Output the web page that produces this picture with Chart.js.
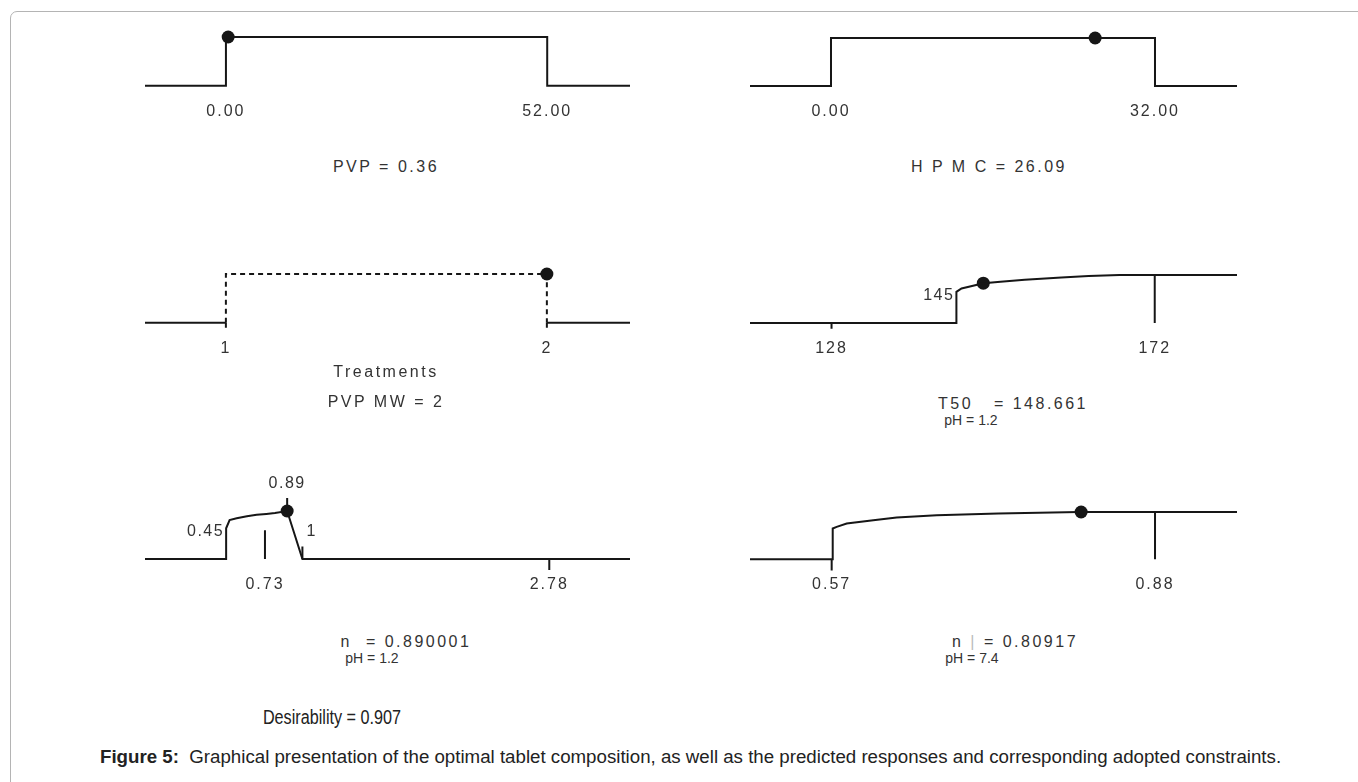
<!DOCTYPE html>
<html>
<head>
<meta charset="utf-8">
<script src="https://cdn.jsdelivr.net/npm/chart.js@4.4.0/dist/chart.umd.min.js"></script>
<style>
  body { margin: 0; background: #fff; width: 1358px; height: 782px; overflow: hidden; position: relative;
         font-family: "Liberation Sans", Arial, sans-serif; color: #222; }
  #frame { position: absolute; left: 10px; top: 11px; width: 1400px; height: 800px;
           border: 1px solid #b4b4b4; border-radius: 7px; }
  canvas { position: absolute; }
  .t { position: absolute; transform: translate(-50%, -50%); white-space: pre; font-size: 16px; letter-spacing: 2.5px; color: #333; }
  .ph { font-size: 14px; letter-spacing: 0; }
  .faint { color: #bbb; }
  #desir { font-size: 20px; letter-spacing: 0; color: #222; transform: translate(-50%, -50%) scaleX(0.81); }
  #caption { position: absolute; left: 100px; top: 746px; font-size: 18.7px; color: #222; white-space: pre; }
</style>
</head>
<body>
<div id="frame"></div>
<canvas id="c1"></canvas>
<canvas id="c2"></canvas>
<canvas id="c3"></canvas>
<canvas id="c4"></canvas>
<canvas id="c5"></canvas>
<canvas id="c6"></canvas>

<div class="t" style="left:386px;top:167px">PVP = 0.36</div>
<div class="t" style="left:989px;top:167px">H P M C = 26.09</div>
<div class="t" style="left:386px;top:372px">Treatments</div>
<div class="t" style="left:386px;top:402px">PVP MW = 2</div>
<div class="t" style="left:1013px;top:404px">T50   = 148.661</div>
<div class="t ph" style="left:971px;top:420px">pH = 1.2</div>
<div class="t" style="left:406px;top:642px">n  = 0.890001</div>
<div class="t ph" style="left:372px;top:658px">pH = 1.2</div>
<div class="t" style="left:1015px;top:642px">n <span class="faint">|</span> = 0.80917</div>
<div class="t ph" style="left:972px;top:658px">pH = 7.4</div>
<div class="t" id="desir" style="left:332px;top:717px">Desirability = 0.907</div>
<div id="caption"><b>Figure 5:</b>  Graphical presentation of the optimal tablet composition, as well as the predicted responses and corresponding adopted constraints.</div>

<script>
// PVP (factor)
var pvpX = [-13.1, 0, 0, 52, 52, 65.4];
var pvpD = [0, 0, 1, 1, 0, 0];
var pvpTicks = [0, 52];
var pvpTickLabels = ['0.00', '52.00'];
var pvpOpt = [0.36, 1];

// HPMC (factor)
var hpmcX = [-8, 0, 0, 32, 32, 40.1];
var hpmcD = [0, 0, 1, 1, 0, 0];
var hpmcTicks = [0, 32];
var hpmcTickLabels = ['0.00', '32.00'];
var hpmcOpt = [26.09, 1];

// PVP MW (categorical factor, treatments 1 and 2)
var mwX = [0.748, 1, 2, 2.259];
var mwStepX = [1, 1, 2, 2];
var mwStepD = [0, 1, 1, 0];
var mwTicks = [1, 2];
var mwTickLabels = ['1', '2'];
var mwMarks = [[1, 0, -0.1], [2, 0, -0.1]];
var mwOpt = [2, 1];

// T50 response, pH 1.2
var t50X = [116.9, 145, 145, 145.4, 145.7, 148.7, 151, 154.3, 159.3, 163, 167.2, 172, 183.2];
var t50D = [0, 0, 0.65, 0.69, 0.72, 0.83, 0.86, 0.9, 0.95, 0.98, 1, 1, 1];
var t50Ticks = [128, 172];
var t50TickLabels = ['128', '172'];
var t50Marks = [[128, 0, -0.12], [172, 0, 1]];
var t50Notes = [[145, 0.58, '145', 'right']];
var t50Opt = [148.661, 0.83];

// n response, pH 1.2
var n12X = [-0.135, 0.45, 0.45, 0.475, 0.526, 0.6, 0.67, 0.74, 0.802, 0.89, 1, 3.362];
var n12D = [0, 0, 0.64, 0.81, 0.85, 0.89, 0.92, 0.94, 0.96, 1, 0, 0];
var n12Ticks = [0.73, 2.78];
var n12TickLabels = ['0.73', '2.78'];
var n12Marks = [[0.73, 0, 0.6], [1, 0, 0.26], [2.78, 0, -0.23], [0.89, 1.08, 1.27]];
var n12Notes = [[0.45, 0.57, '0.45', 'right'], [1, 0.57, '1', 'left'], [0.89, 1.58, '0.89', 'center']];
var n12Opt = [0.890001, 1];

// n response, pH 7.4
var n74X = [0.4917, 0.571, 0.571, 0.5748, 0.5844, 0.6099, 0.6323, 0.6707, 0.7297, 0.8074, 0.88, 0.9586];
var n74D = [0, 0, 0.65, 0.685, 0.756, 0.826, 0.882, 0.93, 0.966, 1, 1, 1];
var n74Ticks = [0.57, 0.88];
var n74TickLabels = ['0.57', '0.88'];
var n74Marks = [[0.57, 0, -0.24], [0.88, 0, 1]];
var n74Opt = [0.80917, 1];

var INK = '#161616';
var FONT = '"Liberation Sans", Arial, sans-serif';
var PAD_TOP = 40, AXIS_H = 44, Y_MIN = -0.25;

function pts(xs, ys) {
    return xs.map(function (x, i) { return { x: x, y: ys[i] }; });
}

// marker segments, broken apart by null points
function segs(marks) {
    var out = [];
    (marks || []).forEach(function (m) {
        out.push({ x: m[0], y: m[1] }, { x: m[0], y: m[2] }, { x: m[0], y: null });
    });
    return out;
}

// spaced-out lettering like the original printout
var spacingPlugin = {
    id: 'spacing',
    beforeDraw: function (chart) { chart.ctx.letterSpacing = '2px'; }
};

// small text labels placed in data coordinates
var notesPlugin = {
    id: 'notes',
    afterDatasetsDraw: function (chart) {
        var notes = chart.options.plugins.notes.items || [];
        var ctx = chart.ctx;
        ctx.save();
        ctx.letterSpacing = '1.5px';
        ctx.fillStyle = '#333';
        ctx.font = '16px ' + FONT;
        ctx.textBaseline = 'middle';
        notes.forEach(function (n) {
            var px = chart.scales.x.getPixelForValue(n[0]);
            var py = chart.scales.y.getPixelForValue(n[1]);
            ctx.textAlign = n[3];
            if (n[3] === 'right') px -= 2;
            if (n[3] === 'left') px += 4;
            ctx.fillText(n[2], px, py);
        });
        ctx.restore();
    }
};

// panel boxes: left, right, y of desirability 1, y of desirability 0
function makePanel(id, box, xmin, xmax, datasets, ticks, tickLabels, notes) {
    var H = box[3] - box[2];
    var cv = document.getElementById(id);
    var w = box[1] - box[0];
    var h = PAD_TOP + H * (1 - Y_MIN) + AXIS_H;
    cv.style.left = box[0] + 'px';
    cv.style.top = (box[2] - PAD_TOP) + 'px';
    cv.style.width = w + 'px';
    cv.style.height = h + 'px';
    cv.width = w; cv.height = h;

    return new Chart(cv.getContext('2d'), {
        type: 'line',
        data: { datasets: datasets },
        options: {
            responsive: false,
            animation: false,
            layout: { autoPadding: false, padding: { top: PAD_TOP, left: 0, right: 0, bottom: 0 } },
            plugins: { legend: { display: false }, tooltip: { enabled: false }, notes: { items: notes } },
            scales: {
                x: {
                    type: 'linear', min: xmin, max: xmax,
                    afterBuildTicks: function (s) { s.ticks = ticks.map(function (v) { return { value: v }; }); },
                    afterFit: function (s) { s.height = AXIS_H; },
                    grid: { display: false, drawTicks: false },
                    border: { display: false },
                    ticks: {
                        autoSkip: false, maxRotation: 0, padding: 4, color: '#333',
                        font: { family: FONT, size: 16 },
                        callback: function (v, i) { return tickLabels[i]; }
                    }
                },
                y: { display: false, min: Y_MIN, max: 1 }
            }
        },
        plugins: [spacingPlugin, notesPlugin]
    });
}

function curve(xs, ys, dash) {
    return { data: pts(xs, ys), borderColor: INK, borderWidth: 2, borderDash: dash || [],
             pointRadius: 0, tension: 0, fill: false, clip: false, spanGaps: false };
}
function marks(list) {
    return { data: segs(list), borderColor: INK, borderWidth: 2, pointRadius: 0, clip: false, spanGaps: false };
}
function optPoint(p) {
    return { data: [{ x: p[0], y: p[1] }], showLine: false, pointRadius: 6.5, pointHoverRadius: 6.5,
             backgroundColor: INK, borderColor: INK, borderWidth: 0, clip: false };
}

makePanel('c1', [145, 630, 37, 86], pvpX[0], pvpX[pvpX.length - 1],
    [curve(pvpX, pvpD), optPoint(pvpOpt)], pvpTicks, pvpTickLabels, []);

makePanel('c2', [750, 1237, 38, 86], hpmcX[0], hpmcX[hpmcX.length - 1],
    [curve(hpmcX, hpmcD), optPoint(hpmcOpt)], hpmcTicks, hpmcTickLabels, []);

makePanel('c3', [145, 630, 274, 323], mwX[0], mwX[mwX.length - 1],
    [curve([mwX[0], mwX[1]], [0, 0]), curve([mwX[2], mwX[3]], [0, 0]),
     curve(mwStepX, mwStepD, [5, 4]), marks(mwMarks), optPoint(mwOpt)],
    mwTicks, mwTickLabels, []);

makePanel('c4', [750, 1237, 275, 323], t50X[0], t50X[t50X.length - 1],
    [curve(t50X, t50D), marks(t50Marks), optPoint(t50Opt)], t50Ticks, t50TickLabels, t50Notes);

makePanel('c5', [145, 630, 511, 559], n12X[0], n12X[n12X.length - 1],
    [curve(n12X, n12D), marks(n12Marks), optPoint(n12Opt)], n12Ticks, n12TickLabels, n12Notes);

makePanel('c6', [750, 1237, 511.7, 559.3], n74X[0], n74X[n74X.length - 1],
    [curve(n74X, n74D), marks(n74Marks), optPoint(n74Opt)], n74Ticks, n74TickLabels, []);
</script>
</body>
</html>
